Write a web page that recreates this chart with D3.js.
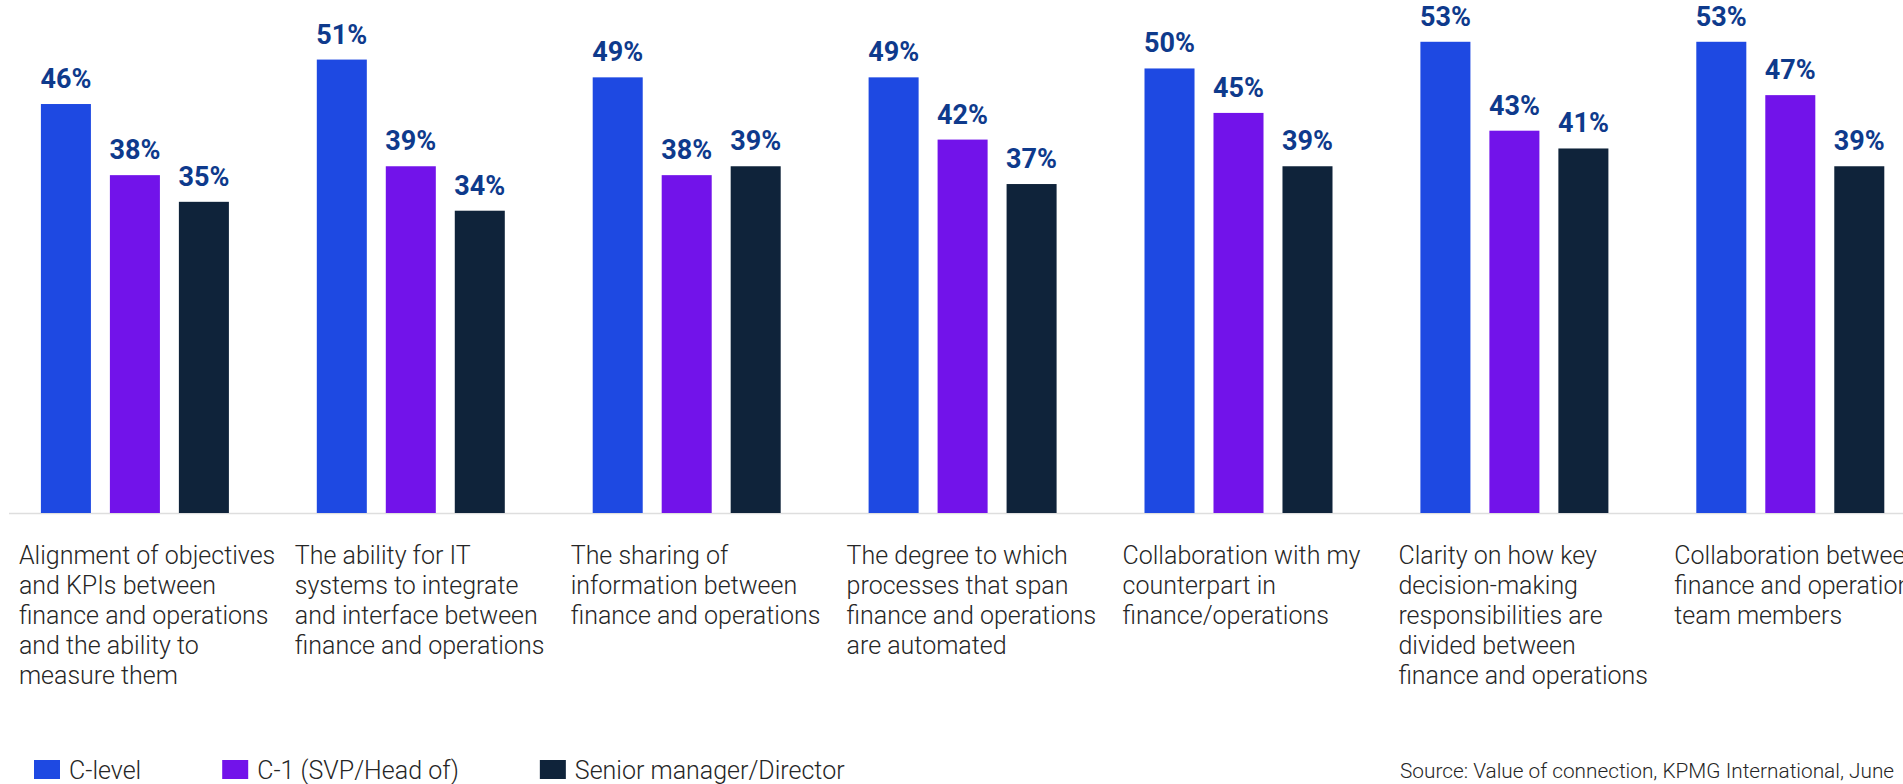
<!DOCTYPE html>
<html>
<head>
<meta charset="utf-8">
<script src="https://cdn.jsdelivr.net/npm/d3@7"></script>
<style>
  html, body { margin: 0; padding: 0; background: #fff; overflow: hidden; }
  svg { display: block; }
</style>
</head>
<body>
<svg id="chart" width="1903" height="784"></svg>
<script>
// ---- Data ----
const categories = [
  ["Alignment of objectives", "and KPIs between", "finance and operations", "and the ability to", "measure them"],
  ["The ability for IT", "systems to integrate", "and interface between", "finance and operations"],
  ["The sharing of", "information between", "finance and operations"],
  ["The degree to which", "processes that span", "finance and operations", "are automated"],
  ["Collaboration with my", "counterpart in", "finance/operations"],
  ["Clarity on how key", "decision-making", "responsibilities are", "divided between", "finance and operations"],
  ["Collaboration between", "finance and operations", "team members"]
];
const seriesNames = ["C-level", "C-1 (SVP/Head of)", "Senior manager/Director"];
const cLevel = [46, 51, 49, 49, 50, 53, 53];
const cMinus1 = [38, 39, 38, 42, 45, 43, 47];
const seniorManager = [35, 34, 39, 37, 39, 41, 39];
const seriesColors = ["#1E49E2", "#7213EA", "#0F233A"];
const sourceText = "Source: Value of connection, KPMG International, June";

// ---- Layout ----
const W = 1903, H = 784;
const baseY = 513;
const svg = d3.select("#chart");

const seriesValues = [cLevel, cMinus1, seniorManager];
const catIdx = d3.range(categories.length);

const x0 = d3.scaleBand().domain(catIdx).range([40.9, 1884.3]).paddingInner(0.3186).paddingOuter(0);
const x1 = d3.scaleBand().domain(d3.range(seriesNames.length)).range([0, x0.bandwidth()]).paddingInner(0.275).paddingOuter(0);
const y = d3.scaleLinear().domain([0, 57.7]).range([baseY, 0]);

// baseline
svg.append("line")
  .attr("x1", 9).attr("x2", W)
  .attr("y1", baseY + 0.5).attr("y2", baseY + 0.5)
  .attr("stroke", "#dedede").attr("stroke-width", 1.5);

// groups
const groups = svg.append("g").selectAll("g")
  .data(catIdx).join("g")
  .attr("transform", d => `translate(${x0(d)},0)`);

groups.selectAll("rect")
  .data(ci => seriesValues.map((vals, si) => ({si, v: vals[ci]})))
  .join("rect")
  .attr("x", d => x1(d.si))
  .attr("width", x1.bandwidth())
  .attr("y", d => y(d.v))
  .attr("height", d => baseY - y(d.v))
  .attr("fill", d => seriesColors[d.si]);

groups.selectAll("text.val")
  .data(ci => seriesValues.map((vals, si) => ({si, v: vals[ci]})))
  .join("text")
  .attr("class", "val")
  .attr("x", d => x1(d.si) + x1.bandwidth() / 2)
  .attr("y", d => y(d.v) - 16)
  .attr("text-anchor", "middle")
  .attr("font-family", "Roboto, 'Liberation Sans', sans-serif")
  .attr("font-weight", 700)
  .attr("font-size", 27)
  .attr("fill", "#0E3A8C")
  .text(d => d.v + "%");

// category labels
groups.append("text")
  .attr("x", -22)
  .attr("y", 564)
  .attr("font-family", "Roboto, 'Liberation Sans', sans-serif")
  .attr("font-weight", 300)
  .attr("font-size", 25)
  .attr("fill", "#262626")
  .selectAll("tspan")
  .data(ci => categories[ci])
  .join("tspan")
  .attr("x", -22)
  .attr("dy", (d, i) => i === 0 ? 0 : 30)
  .text(d => d);

// legend
const legend = svg.append("g");
let lx = 34;
seriesNames.forEach((name, i) => {
  legend.append("rect")
    .attr("x", lx).attr("y", 760)
    .attr("width", 26).attr("height", 19)
    .attr("fill", seriesColors[i]);
  const t = legend.append("text")
    .attr("x", lx + 35).attr("y", 779)
    .attr("font-family", "Roboto, 'Liberation Sans', sans-serif")
    .attr("font-weight", 300)
    .attr("font-size", 25)
    .attr("fill", "#262626")
    .text(name);
  lx = lx + 35 + t.node().getComputedTextLength() + 81;
});

// source
svg.append("text")
  .attr("x", 1400).attr("y", 778)
  .attr("font-family", "Roboto, 'Liberation Sans', sans-serif")
  .attr("font-weight", 300)
  .attr("font-size", 20.8)
  .attr("fill", "#262626")
  .text(sourceText);
</script>
</body>
</html>
